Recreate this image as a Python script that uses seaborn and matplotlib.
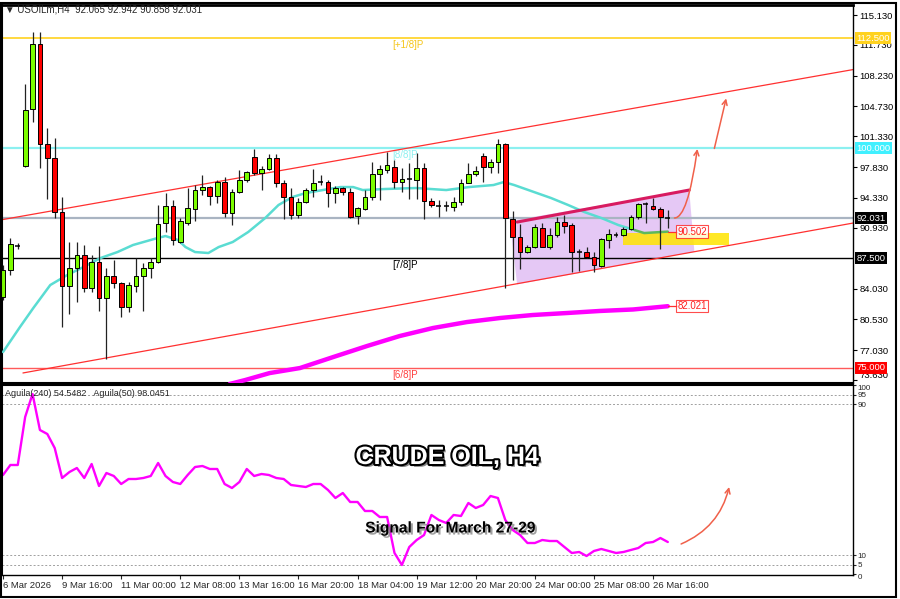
import numpy as np
import pandas as pd
import seaborn as sns
import matplotlib.pyplot as plt
import matplotlib.patheffects as pe
from matplotlib.patches import Polygon, Rectangle
from matplotlib.transforms import blended_transform_factory

# ---- H4 candles (bar index 0 = 6 Mar 2026) ----
opens = [83.07, 86.14, 88.86, 97.96, 104.44, 111.83, 100.46, 98.87, 92.73, 84.32,
         86.36, 87.84, 84.09, 87.05, 82.95, 85.45, 84.66, 81.93, 84.32, 85.45,
         86.36, 87.05, 91.48, 93.41, 89.32, 91.48, 93.07, 95.23, 95.57, 94.55,
         96.14, 92.62, 95.00, 96.37, 98.99, 97.17, 97.62, 98.87, 96.03, 94.44,
         92.39, 93.87, 95.23, 96.03, 96.14, 94.89, 95.46, 95.00, 92.28, 93.07,
         94.44, 97.05, 97.51, 97.85, 96.14, 96.48, 96.37, 97.73, 93.98, 93.41,
         93.41, 93.30, 93.87, 96.03, 97.05, 99.10, 97.85, 98.41, 100.46, 91.93,
         89.89, 88.18, 88.75, 90.91, 88.75, 90.11, 91.59, 91.25, 88.18, 88.18,
         87.61, 86.59, 89.55, 90.11, 90.11, 90.80, 92.16, 93.64, 93.41, 93.07,
         92.065]
highs = [86.70, 89.77, 89.21, 107.28, 113.20, 113.20, 102.28, 101.14, 94.44, 89.32,
         89.32, 88.98, 87.84, 88.86, 86.36, 87.27, 84.77, 84.77, 87.50, 86.93,
         87.50, 93.53, 94.89, 94.10, 92.05, 95.46, 95.80, 96.94, 95.70, 96.37,
         96.71, 95.35, 97.51, 97.39, 99.89, 97.96, 99.33, 99.33, 96.37, 95.46,
         94.32, 95.46, 97.62, 96.94, 96.37, 95.69, 95.57, 95.46, 93.30, 95.23,
         98.41, 98.07, 99.55, 98.64, 97.73, 98.30, 99.44, 98.30, 94.32, 94.10,
         93.98, 94.44, 96.48, 98.30, 97.96, 99.44, 98.76, 101.03, 100.58, 92.84,
         91.37, 88.98, 91.37, 91.48, 90.91, 92.16, 92.39, 91.48, 88.52, 88.75,
         88.18, 89.77, 90.80, 90.46, 91.02, 92.39, 93.75, 93.87, 94.32, 93.30,
         92.942]
lows = [82.73, 85.57, 88.52, 97.85, 102.96, 97.73, 94.21, 92.05, 79.66, 81.13,
        82.50, 83.63, 83.63, 81.48, 76.02, 84.09, 80.79, 81.36, 83.63, 81.48,
        85.23, 86.93, 90.46, 88.98, 89.21, 91.25, 91.71, 94.66, 93.53, 93.75,
        92.16, 91.25, 94.89, 96.14, 96.94, 95.23, 97.51, 95.57, 91.93, 91.93,
        92.05, 93.75, 94.44, 95.80, 93.30, 93.75, 94.66, 92.10, 91.37, 92.96,
        94.10, 94.10, 97.17, 95.46, 95.00, 94.21, 94.21, 91.93, 93.30, 92.16,
        92.84, 92.84, 93.53, 96.03, 96.82, 96.14, 97.17, 97.17, 84.09, 85.00,
        86.25, 88.07, 88.64, 88.70, 88.52, 89.89, 90.34, 85.91, 86.02, 87.50,
        85.91, 86.48, 88.64, 89.89, 90.00, 90.68, 91.93, 91.48, 92.96, 88.52,
        90.858]
closes = [86.14, 89.09, 88.90, 104.33, 111.83, 100.46, 98.87, 92.73, 84.32, 86.36,
          87.84, 84.09, 87.05, 82.95, 85.45, 84.66, 81.93, 84.43, 85.45, 86.36,
          87.05, 91.37, 93.41, 89.55, 91.71, 93.19, 95.23, 95.57, 94.55, 96.14,
          92.62, 95.00, 96.37, 97.28, 97.17, 97.62, 98.87, 96.03, 94.44, 92.39,
          93.87, 95.23, 96.03, 96.10, 94.89, 95.46, 95.00, 92.16, 93.19, 94.44,
          97.05, 97.62, 98.07, 96.14, 96.48, 96.50, 97.73, 93.98, 93.53, 93.45,
          93.41, 93.87, 96.03, 97.05, 97.39, 97.85, 98.41, 100.46, 92.05, 89.89,
          88.18, 88.75, 91.02, 88.75, 90.11, 91.59, 91.14, 88.18, 88.20, 87.61,
          86.70, 89.66, 90.23, 90.15, 90.80, 92.16, 93.64, 93.60, 93.07, 92.16,
          92.031]

# Aguila oscillator, one value per bar
aguila = [52.45, 57.75, 57.75, 83.18, 95.36, 76.29, 74.17, 66.75, 50.86, 54.04,
          56.16, 50.86, 58.28, 46.62, 53.51, 51.92, 47.68, 50.33, 50.33, 50.86,
          51.92, 58.81, 51.92, 48.74, 47.68, 52.45, 56.69, 57.22, 55.63, 55.63,
          47.68, 45.56, 48.74, 55.63, 51.92, 52.98, 52.45, 50.86, 50.33, 47.15,
          46.62, 46.09, 47.68, 47.68, 44.50, 40.26, 42.91, 38.15, 38.15, 33.38,
          33.38, 30.20, 30.20, 11.13, 4.77, 14.30, 18.01, 20.66, 31.26, 28.61,
          27.02, 31.26, 30.73, 37.62, 34.97, 36.56, 41.32, 40.26, 28.61, 23.31,
          20.66, 16.42, 16.42, 18.01, 17.48, 17.48, 14.30, 11.13, 11.66, 9.54,
          12.19, 13.25, 12.19, 11.13, 11.66, 12.72, 13.77, 16.42, 16.95, 19.07,
          16.95]

# moving averages (bar index, price)
ma_fast_bar = [0, 2.3, 4.1, 6.4, 8.7, 10.9, 13.2, 15.5, 17.6, 20.9, 22, 23.7, 24.7,
               26, 27.8, 29.2, 31.1, 33.2, 35.5, 37.3, 39.2, 41, 43.3, 45.7, 47.4,
               48.7, 51.8, 55.9, 60, 63.1, 66.4, 67.8, 69.2, 71.9, 74.2, 76.5,
               78.7, 81, 83.3, 85.5, 86.8, 90]
ma_fast = [76.81, 79.66, 81.81, 84.43, 85.57, 86.48, 87.50, 88.18, 88.98, 89.77,
           90.00, 89.55, 88.75, 88.18, 88.07, 88.75, 89.32, 90.46, 92.05, 93.53,
           94.44, 94.89, 95.23, 95.57, 95.57, 95.23, 95.35, 95.46, 95.23, 95.57,
           95.80, 96.14, 95.80, 95.00, 94.32, 93.53, 92.73, 92.05, 91.25, 90.68,
           90.34, 90.502]
ma_slow_bar = [30.7, 32.8, 36.1, 40.2, 44.7, 49.3, 53.7, 58.2, 62.8, 67.3, 71.7,
               76.4, 80.8, 85.3, 90]
ma_slow = [73.18, 73.63, 74.42, 74.99, 76.24, 77.50, 78.63, 79.54, 80.22, 80.68,
           81.02, 81.25, 81.48, 81.65, 82.021]

# levels, channel and pattern drawings
levels = [112.5, 100.0, 92.031, 87.5, 75.0]
level_colors = ["#FFD21F", "#8CF0F0", "#A9B4C2", "#000000", "#FF5A5A"]
level_widths = [1.2, 1.6, 1.6, 1.0, 1.0]
murrey_names = ["[+1/8]P", "[8/8]P", "[7/8]P", "[6/8]P"]
murrey_levels = [112.5, 100.0, 87.5, 75.0]
murrey_colors = ["#F5C518", "#8CF0F0", "#000000", "#FF4040"]
box_levels = ["112.500", "100.000", "92.031", "87.500", "75.000"]
box_colors = ["#FFD21F", "#40F0FF", "#000000", "#000000", "#FF0000"]
channel_upper = [(-0.2, 91.85), (115.1, 108.93)]
channel_lower = [(2.7, 74.43), (115.1, 91.48)]
wedge_top = [(69.6, 91.59), (92.9, 95.23)]
wedge_area = [(68.6, 91.71), (92.9, 95.23), (93.6, 88.2), (69.6, 84.5)]
support_zone = (83.9, 98.3, 88.98, 90.34)

price_ticks = [115.13, 111.73, 108.23, 104.73, 101.33, 97.83, 94.33, 90.93,
               84.03, 80.53, 77.03, 73.63]
date_bars = [0, 8, 16, 24, 32, 40, 48, 56, 64, 72, 80, 88]
date_labels = ["6 Mar 2026", "9 Mar 16:00", "11 Mar 00:00", "12 Mar 08:00",
               "13 Mar 16:00", "16 Mar 20:00", "18 Mar 04:00", "19 Mar 12:00",
               "20 Mar 20:00", "24 Mar 00:00", "25 Mar 08:00", "26 Mar 16:00"]
osc_ticks = [100, 95, 90, 10, 5, 0]

sns.set_style("white")
plt.rcParams["font.family"] = ["Liberation Sans", "DejaVu Sans"]

df = pd.DataFrame({"open": opens, "high": highs, "low": lows, "close": closes})
df["bar"] = np.arange(len(df))

fig = plt.figure(figsize=(9, 5.99), dpi=100)
ax = fig.add_axes([2 / 900, 1 - 383 / 599, 851 / 900, 378 / 599])
ax2 = fig.add_axes([2 / 900, 1 - 575 / 599, 851 / 900, 190 / 599])
XLIM = (-0.135, 115.07)

# pattern shading and support zone
ax.add_patch(Polygon(wedge_area, closed=True, fc="#DDB6F2", ec="none", alpha=0.75, zorder=1))
x0, x1, y0, y1 = support_zone
ax.add_patch(Rectangle((x0, y0), x1 - x0, y1 - y0, fc="#FFE400", ec="none", alpha=0.85, zorder=1.5))

for lv, c, w in zip(levels, level_colors, level_widths):
    ax.axhline(lv, color=c, lw=w, zorder=2)
for name, lv, c in zip(murrey_names, murrey_levels, murrey_colors):
    ax.annotate(name, (52.7, lv), xytext=(0, -1.5), textcoords="offset points",
                color=c, fontsize=7, va="top", ha="left", zorder=2)

for line in (channel_upper, channel_lower):
    (xa, ya), (xb, yb) = line
    ax.plot([xa, xb], [ya, yb], color="#FF3030", lw=0.9, zorder=2.5)

# moving averages
sns.lineplot(x=ma_fast_bar[:-2], y=ma_fast[:-2], ax=ax, color="#5ADCD2", lw=1.8, zorder=3)
sns.lineplot(x=ma_fast_bar[-3:], y=ma_fast[-3:], ax=ax, color="#5DB85D", lw=1.8, zorder=3)
sns.lineplot(x=ma_slow_bar, y=ma_slow, ax=ax, color="#FF00FF", lw=3.2, zorder=3)

# candles
ax.vlines(df["bar"], df["low"], df["high"], color="#222222", lw=0.9, zorder=4)
body = (df["close"] - df["open"]).abs()
doji = df[body < 0.08]
up = df[(df["close"] > df["open"]) & (body >= 0.08)]
dn = df[(df["close"] < df["open"]) & (body >= 0.08)]
ax.bar(up["bar"], up["close"] - up["open"], bottom=up["open"], width=0.64,
       color="#7CFC00", edgecolor="black", lw=0.7, zorder=5)
ax.bar(dn["bar"], dn["open"] - dn["close"], bottom=dn["close"], width=0.64,
       color="#FF0000", edgecolor="black", lw=0.7, zorder=5)
ax.hlines(doji["close"], doji["bar"] - 0.32, doji["bar"] + 0.32, color="black", lw=1.1, zorder=5)

(xa, ya), (xb, yb) = wedge_top
ax.plot([xa, xb], [ya, yb], color="#D81B60", lw=2.2, zorder=6)

# value tags for the averages
for val in (ma_fast[-1], ma_slow[-1]):
    ax.plot([90, 91.2], [val, val], color="#FF3030", lw=0.9, zorder=6)
    ax.text(91.3, val, f"{val:.3f}", color="#FF2020", fontsize=7, va="center", ha="left",
            zorder=7, bbox=dict(boxstyle="square,pad=0.12", fc="white", ec="#FF2020", lw=0.8, alpha=0.8))

# projection arrows
arrow_kw = dict(arrowstyle="->", color="#F0604A", lw=1.1, mutation_scale=9, shrinkA=0, shrinkB=0)
ax.annotate("", xy=(94.0, 99.9), xytext=(90.9, 92.05),
            arrowprops=dict(connectionstyle="angle3,angleA=0,angleB=82", **arrow_kw), zorder=7)
ax.annotate("", xy=(97.9, 105.65), xytext=(96.3, 99.96), arrowprops=arrow_kw, zorder=7)

ax.set_xlim(*XLIM)
ax.set_ylim(73.29, 116.27)
ax.yaxis.tick_right()
ax.set_yticks(price_ticks)
ax.set_yticklabels([f"{t:.3f}" for t in price_ticks])
ax.tick_params(axis="y", length=3, width=0.8, labelsize=6.8, pad=1.5, colors="black", direction="out")
ax.tick_params(axis="x", bottom=False, labelbottom=False)
ax.set_xlabel("")
ax.set_ylabel("")
# lowest price label sits on the panel border
ax.yaxis.get_major_ticks()[-1].label2.set_va("bottom")

trans = blended_transform_factory(ax.transAxes, ax.transData)
for txt, lv, c in zip(box_levels, levels, box_colors):
    ax.text(1.004, lv, txt, transform=trans, color="white", fontsize=6.8, va="center",
            ha="left", zorder=8, clip_on=False,
            bbox=dict(boxstyle="square,pad=0.15", fc=c, ec="none"))

# oscillator panel
sns.lineplot(x=df["bar"], y=aguila, ax=ax2, color="#FF00FF", lw=1.7)
for lv in (95, 90, 10, 5):
    ax2.axhline(lv, color="#A0A0A0", ls=(0, (2, 2)), lw=0.7, zorder=0)
ax2.annotate("", xy=(98.3, 46.1), xytext=(91.8, 15.9),
             arrowprops=dict(connectionstyle="arc3,rad=0.25", **arrow_kw))
ax2.set_xlim(*XLIM)
ax2.set_ylim(-0.53, 100.13)
ax2.yaxis.tick_right()
ax2.set_yticks(osc_ticks)
ax2.set_yticklabels([str(t) for t in osc_ticks])
ax2.tick_params(axis="y", length=2, labelsize=5.8, pad=1.5, direction="out")
osc_tick_objs = ax2.yaxis.get_major_ticks()
osc_tick_objs[0].label2.set_va("top")
osc_tick_objs[-1].label2.set_va("top")
ax2.set_xticks(date_bars)
ax2.set_xticklabels(date_labels, ha="left")
ax2.tick_params(axis="x", length=3, labelsize=6.8, pad=1.5, direction="out", bottom=True)
ax2.set_xlabel("")
ax2.set_ylabel("")

for a in (ax, ax2):
    for s in a.spines.values():
        s.set_color("black")
        s.set_linewidth(1.0)
ax.spines["top"].set_linewidth(2)
ax.spines["left"].set_linewidth(1.5)
ax2.spines["left"].set_linewidth(1.5)
ax.spines["bottom"].set_linewidth(1.5)
ax2.spines["top"].set_linewidth(1.5)

# headers and captions
fig.text(5 / 900, 1 - 9 / 599, "\u25bc USOILm,H4  92.065 92.942 90.858 92.031",
         fontsize=7, va="center", ha="left")
fig.text(5 / 900, 1 - 393 / 599, "Aguila(240) 54.5482   Aguila(50) 98.0451",
         fontsize=6.5, va="center", ha="left")
fig.text(447 / 900, 1 - 457 / 599, "CRUDE OIL, H4", fontsize=18, fontweight="bold",
         color="white", ha="center", va="center",
         path_effects=[pe.SimplePatchShadow(offset=(2, -2), shadow_rgbFace="#555555", alpha=0.7),
                       pe.withStroke(linewidth=3, foreground="black")])
fig.text(450 / 900, 1 - 528 / 599, "Signal For March 27-29", fontsize=11.2, fontweight="bold",
         color="black", ha="center", va="center",
         path_effects=[pe.SimplePatchShadow(offset=(1.5, -1.5), shadow_rgbFace="#888888", alpha=0.8),
                       pe.Normal()])

fig.patches.append(Rectangle((1 / 900, 2 / 599), 895 / 900, 594 / 599, transform=fig.transFigure,
                             fill=False, ec="black", lw=1.5))

fig.savefig("out.png", dpi=100)
